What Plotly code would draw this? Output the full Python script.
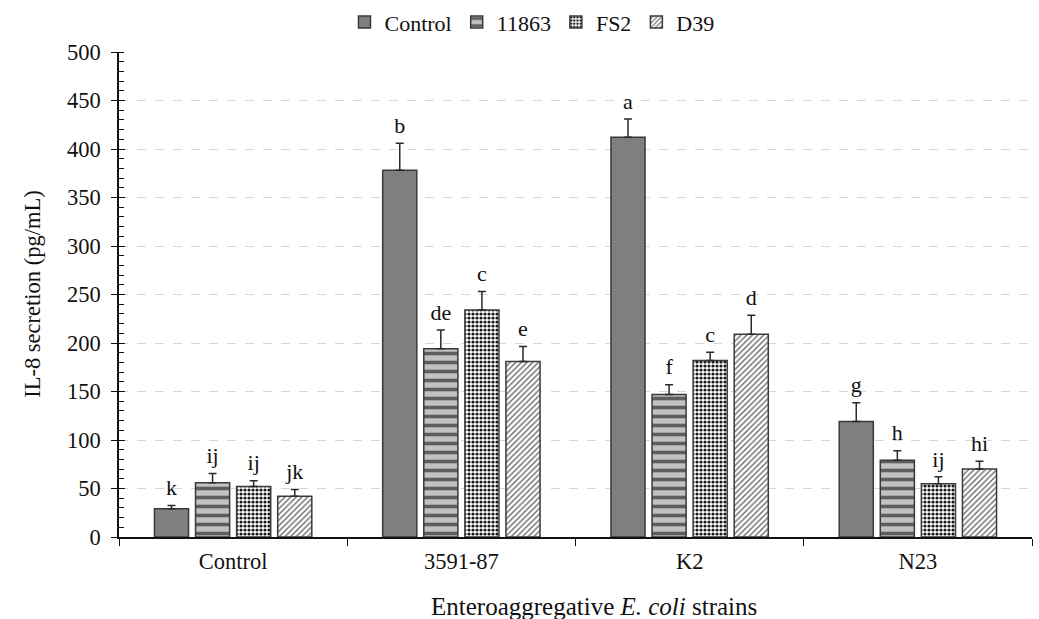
import plotly.graph_objects as go

# IL-8 secretion by strain (x categories) and treatment (series)
strains = ["Control", "3591-87", "K2", "N23"]
series_names = ["Control", "11863", "FS2", "D39"]

control_vals = [29, 378, 412, 119]
v11863_vals = [56, 194, 147, 79]
fs2_vals = [52, 234, 182, 55]
d39_vals = [42, 181, 209, 70]

control_err = [3.5, 28, 19, 19.5]
v11863_err = [9.5, 19.5, 10, 10]
fs2_err = [6, 19, 8.5, 7]
d39_err = [7, 15.5, 19.5, 8]

control_letters = ["k", "b", "a", "g"]
v11863_letters = ["ij", "de", "f", "h"]
fs2_letters = ["ij", "c", "c", "ij"]
d39_letters = ["jk", "e", "d", "hi"]

values = [control_vals, v11863_vals, fs2_vals, d39_vals]
errors = [control_err, v11863_err, fs2_err, d39_err]
letters = [control_letters, v11863_letters, fs2_letters, d39_letters]

serif = "Liberation Serif, Times New Roman, serif"
edge = "#3a3a3a"
ink = "#111111"
tick_size = 22.5

styles = [
    dict(color="#7f7f7f", pattern=dict(shape="")),
    dict(color="#c2c2c2", pattern=dict(shape="-", fgcolor="#5e5e5e",
                                       bgcolor="#c2c2c2", size=9,
                                       solidity=0.4, fillmode="replace")),
    dict(color="#ffffff", pattern=dict(shape=".", fgcolor="#1a1a1a",
                                       bgcolor="#ffffff", size=4,
                                       solidity=0.5, fillmode="replace")),
    dict(color="#ffffff", pattern=dict(shape="/", fgcolor="#6a6a6a",
                                       bgcolor="#ffffff", size=4,
                                       solidity=0.35, fillmode="replace")),
]

fig = go.Figure()

for name, vals, errs, st in zip(series_names, values, errors, styles):
    fig.add_trace(go.Bar(
        x=strains, y=vals, name=name, offsetgroup=name,
        marker=dict(color=st["color"], pattern=st["pattern"],
                    line=dict(color=edge, width=1.5)),
        error_y=dict(type="data", array=errs, arrayminus=[0] * len(errs),
                     symmetric=False, color="#2a2a2a", thickness=1.5, width=4),
    ))

# significance letters above each error bar
for name, vals, errs, labs in zip(series_names, values, errors, letters):
    fig.add_trace(go.Scatter(
        x=strains, y=[v + e for v, e in zip(vals, errs)],
        offsetgroup=name, mode="markers+text", text=labs,
        marker=dict(size=6, color="rgba(0,0,0,0)"),
        textposition="top center",
        textfont=dict(family=serif, size=22, color=ink),
        showlegend=False, hoverinfo="skip",
    ))

# companion axis carrying the inner half of the major y ticks
fig.add_trace(go.Scatter(x=strains, y=[None] * 4, yaxis="y2",
                         showlegend=False, hoverinfo="skip"))

fig.update_layout(
    width=1039, height=619,
    margin=dict(l=119, r=7, t=52, b=82, autoexpand=False),
    paper_bgcolor="white", plot_bgcolor="white",
    barmode="group", scattermode="group",
    bargap=0.28, bargroupgap=0.17,
    font=dict(family=serif, size=tick_size, color=ink),
    legend=dict(orientation="h", xref="container", yref="container",
                x=0.512, xanchor="center", y=0.998, yanchor="top",
                font=dict(family=serif, size=22, color=ink), itemwidth=30,
                tracegroupgap=0, bgcolor="rgba(0,0,0,0)"),
    showlegend=True,
    yaxis2=dict(overlaying="y", range=[0, 500], side="left", showgrid=False,
                showticklabels=False, ticks="inside", ticklen=6,
                tickcolor=ink, dtick=50, tick0=0, zeroline=False,
                showline=False),
    annotations=[
        dict(text="Enteroaggregative <i>E. coli</i> strains",
             xref="paper", yref="paper", x=0.52, y=0, yshift=-69,
             xanchor="center", yanchor="middle", showarrow=False,
             font=dict(family=serif, size=25, color=ink)),
        dict(text="IL-8 secretion (pg/mL)", textangle=-90,
             xref="paper", yref="paper", x=-0.095, y=0.5,
             xanchor="center", yanchor="middle", showarrow=False,
             font=dict(family=serif, size=22.5, color=ink)),
    ],
)

fig.update_xaxes(
    showline=True, linecolor=ink, linewidth=1.5,
    ticks="outside", tickson="boundaries", ticklen=7, tickcolor=ink,
    tickfont=dict(family=serif, size=tick_size, color=ink),
    ticklabelstandoff=3,
    showgrid=False,
)

fig.update_layout(yaxis=dict(
    range=[0, 500], dtick=50, tick0=0,
    showline=True, linecolor=ink, linewidth=1.5,
    ticks="outside", ticklen=6, tickcolor=ink,
    tickfont=dict(family=serif, size=tick_size, color=ink),
    ticklabelstandoff=6,
    minor=dict(dtick=10, ticks="inside", ticklen=5, tickcolor=ink,
               showgrid=False),
    showgrid=True, gridcolor="#d6d6d6", griddash="dash", gridwidth=1,
    zeroline=False,
))

fig.write_html("out.html")
